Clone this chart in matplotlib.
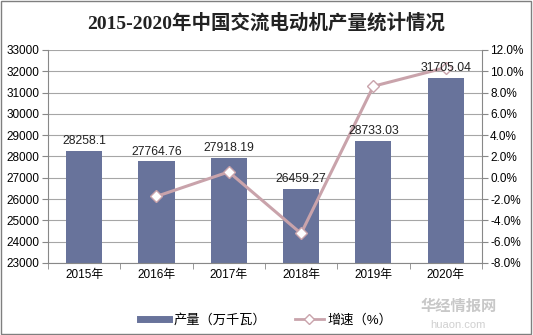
import matplotlib
matplotlib.use('Agg')
from matplotlib import pyplot as plt
from matplotlib.patches import Rectangle
from matplotlib.lines import Line2D
import numpy as np

plt.rcParams['font.family'] = ['Liberation Sans', 'Noto Sans CJK SC', 'DejaVu Sans']
plt.rcParams['axes.unicode_minus'] = False

# 数据
years = ['2015年', '2016年', '2017年', '2018年', '2019年', '2020年']
output = [28258.1, 27764.76, 27918.19, 26459.27, 28733.03, 31705.04]  # 万千瓦
growth = [-1.75, 0.55, -5.23, 8.59, 10.34]  # %, 2016-2020

BAR_COLOR = '#68739b'
LINE_COLOR = '#c9a3ab'
GRID_COLOR = '#a6a6a6'

fig = plt.figure(figsize=(5.33, 3.35), dpi=100)
ax = fig.add_axes([0.09, 0.215, 0.814, 0.636])

x = np.arange(len(years))
ax.bar(x, output, width=0.5, color=BAR_COLOR, zorder=2)

ax.set_ylim(23000, 33000)
ax.set_yticks(np.arange(23000, 33001, 1000))
ax.set_xlim(-0.5, len(years) - 0.5)
ax.set_xticks(x)
ax.set_xticklabels(years)
ax.set_xticks(np.arange(-0.5, len(years), 1), minor=True)
ax.tick_params(axis='x', which='major', length=0, labelsize=8.5, pad=4)
ax.tick_params(axis='x', which='minor', length=4, color='#888888')
ax.tick_params(axis='y', length=4, color='#888888', labelsize=8.5, pad=2)
ax.grid(axis='y', color=GRID_COLOR, linewidth=0.8, zorder=0)
ax.set_axisbelow(True)
for side in ['top', 'right']:
    ax.spines[side].set_visible(False)
ax.spines['left'].set_color('#888888')
ax.spines['bottom'].set_color('#888888')

# 增速折线（右轴）
ax2 = ax.twinx()
gx = x[1:]
ax2.plot(gx, growth, color=LINE_COLOR, linewidth=2.2, marker='D', markersize=6,
         markerfacecolor='white', markeredgecolor=LINE_COLOR, markeredgewidth=1,
         zorder=3)
ax2.set_ylim(-8, 12)
ax2.set_yticks(np.arange(-8, 12.1, 2))
ax2.set_yticklabels([f'{t:.1f}%' for t in np.arange(-8, 12.1, 2)])
ax2.tick_params(axis='y', length=4, color='#888888', labelsize=8.5, pad=2)
for side in ['top', 'left', 'bottom']:
    ax2.spines[side].set_visible(False)
ax2.spines['right'].set_color('#888888')

# 柱顶数值标签，画在折线之上
for xi, v in zip(x, output):
    ax2.text(xi, v + 180, f'{v}', ha='center', va='bottom', fontsize=8.8,
             color='#222222', zorder=5, transform=ax.transData)

fig.text(0.5, 0.932, '2015-2020年中国交流电动机产量统计情况', ha='center',
         va='center', fontsize=14, fontweight='bold', color='#222222',
         family=['Liberation Serif', 'Noto Sans CJK SC'])

# 图例
handles = [
    Line2D([0], [0], color=BAR_COLOR, linewidth=5),
    Line2D([0], [0], color=LINE_COLOR, linewidth=2, marker='D', markersize=5,
           markerfacecolor='white', markeredgecolor=LINE_COLOR),
]
fig.legend(handles, ['产量（万千瓦）', '增速（%）'], loc='center',
           bbox_to_anchor=(0.5, 0.045), ncol=2, frameon=False, fontsize=9.5,
           handlelength=2.2, columnspacing=2.2, handletextpad=0.3)

# 水印
fig.text(0.86, 0.085, '华经情报网', ha='center', va='center', fontsize=11,
         color='#c8c8c8', fontweight='bold')
fig.text(0.86, 0.03, 'huaon.com', ha='center', va='center', fontsize=8,
         color='#d0d0d0')

# 外边框
fig.patches.append(Rectangle((0.002, 0.003), 0.995, 0.994, transform=fig.transFigure,
                             fill=False, edgecolor='#7f7f7f', linewidth=1))

fig.savefig('out.png', dpi=100)
